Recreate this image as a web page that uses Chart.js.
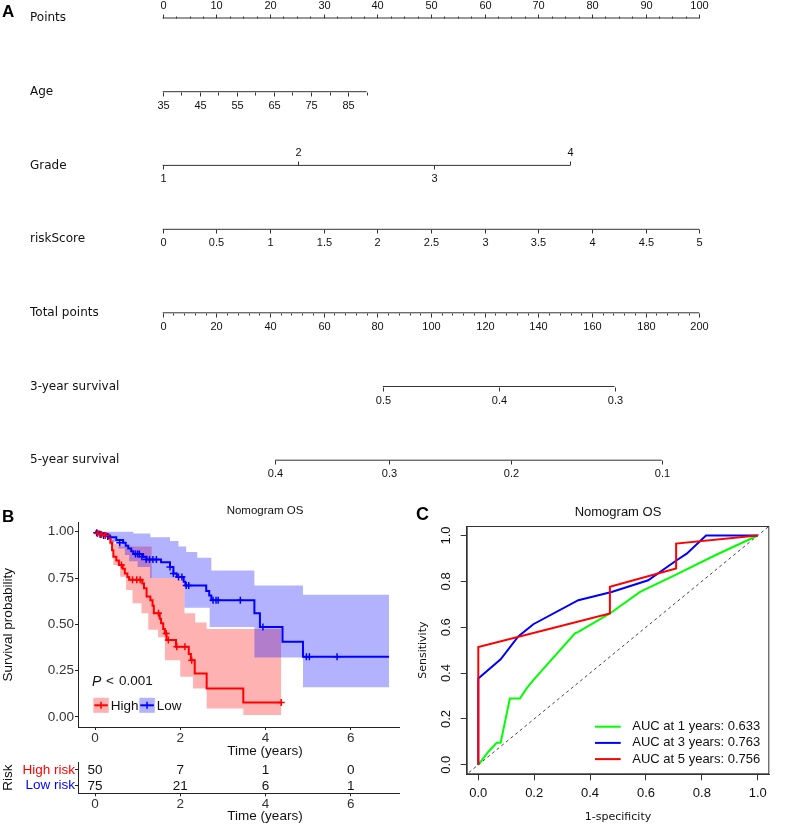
<!DOCTYPE html>
<html>
<head>
<meta charset="utf-8">
<script src="https://cdn.jsdelivr.net/npm/chart.js@4.4.0/dist/chart.umd.min.js"></script>
<style>
  body { margin: 0; background: #fff; width: 788px; height: 827px; position: relative; overflow: hidden; }
  canvas { position: absolute; }
  .tag { position: absolute; font: bold 17px "Liberation Sans", Arial, sans-serif; line-height: 17px; color: #000; }
</style>
</head>
<body>
<canvas id="nomo" width="788" height="485" style="left:0;top:0"></canvas>
<canvas id="km" width="460" height="269" style="left:0;top:490px"></canvas>
<canvas id="risk" width="460" height="75" style="left:0;top:752px"></canvas>
<canvas id="roc" width="388" height="337" style="left:400px;top:490px;background:#fff"></canvas>
<div class="tag" style="left:2px;top:3px">A</div>
<div class="tag" style="left:2px;top:508px">B</div>
<div class="tag" style="left:416px;top:506px;font-size:18px">C</div>
<script>
// Nomogram + KM + ROC figure

Chart.defaults.font.family = '"Liberation Sans", Arial, sans-serif';
Chart.defaults.color = '#222';
Chart.defaults.plugins.legend.display = false;
Chart.defaults.plugins.tooltip.enabled = false;

// ---------- A: nomogram ----------
const nomoRows = ['Points', 'Age', 'Grade', 'riskScore', 'Total points', '3-year survival', '5-year survival'];
const pointsLabels = [0, 10, 20, 30, 40, 50, 60, 70, 80, 90, 100];
const pointsMinorStep = 2.5;
const ageLabels = [35, 45, 55, 65, 75, 85];
const ageTickStep = 5;
const ageRange = [35, 90];
const agePointRange = [0, 38.0];
const gradeLevels = ['1', '2', '3', '4'];
const gradePoints = [0, 25.3, 50.6, 75.9];
const gradeLabelSide = ['below', 'above', 'below', 'above'];
const riskScoreValues = [0, 0.5, 1, 1.5, 2, 2.5, 3, 3.5, 4, 4.5, 5];
const riskScoreMaxPoints = 100;
const totalLabels = [0, 20, 40, 60, 80, 100, 120, 140, 160, 180, 200];
const totalMinorStep = 4;
const surv3Labels = ['0.5', '0.4', '0.3'];
const surv3Total = [82.0, 125.5, 168.4];
const surv5Labels = ['0.4', '0.3', '0.2', '0.1'];
const surv5Total = [41.9, 84.5, 129.8, 186.0];

// ---------- B: Kaplan-Meier ----------
const kmTitle = 'Nomogram OS';
const kmTimeTicks = [0, 2, 4, 6];
const kmSurvTicks = [0, 0.25, 0.5, 0.75, 1];
const highCurve = [[0,1],[0.1,0.99],[0.25,0.98],[0.33,0.965],[0.36,0.94],[0.4,0.9],[0.43,0.865],[0.5,0.845],[0.56,0.82],[0.65,0.8],[0.7,0.775],[0.76,0.755],[0.8,0.74],[1.11,0.72],[1.15,0.695],[1.21,0.65],[1.3,0.63],[1.35,0.6],[1.38,0.56],[1.52,0.53],[1.55,0.505],[1.6,0.475],[1.64,0.45],[1.68,0.415],[1.9,0.378],[2.2,0.34],[2.25,0.306],[2.34,0.234],[2.62,0.153],[3.48,0.078],[4.37,0.078]];
const lowCurve = [[0,1],[0.1,0.99],[0.25,0.98],[0.35,0.97],[0.5,0.955],[0.66,0.94],[0.72,0.925],[0.78,0.91],[0.85,0.895],[0.9,0.88],[1.13,0.865],[1.21,0.85],[1.55,0.835],[1.76,0.81],[1.84,0.775],[1.92,0.755],[2.08,0.73],[2.12,0.71],[2.61,0.68],[2.68,0.655],[2.73,0.63],[3.74,0.56],[3.87,0.486],[4.4,0.405],[4.88,0.324],[6.9,0.324]];
const highUpper = [[0,1],[0.3,0.995],[0.35,0.98],[0.4,0.955],[0.45,0.935],[0.55,0.92],[1.33,0.75],[2.1,0.56],[2.35,0.51],[2.62,0.475],[4.37,0.475]];
const highLower = [[0,1],[0.3,0.97],[0.35,0.93],[0.43,0.82],[0.59,0.757],[0.73,0.685],[0.88,0.613],[1.09,0.56],[1.25,0.47],[1.48,0.43],[1.64,0.306],[2.0,0.216],[2.3,0.153],[2.62,0.045],[3.48,0.01],[4.37,0.01]];
const lowUpper = [[0,1],[0.9,0.99],[1.3,0.97],[1.76,0.95],[1.96,0.92],[2.14,0.89],[2.4,0.86],[2.73,0.79],[3.74,0.71],[4.88,0.66],[6.9,0.66]];
const lowLower = [[0,1],[0.2,0.975],[0.35,0.945],[0.55,0.91],[0.7,0.875],[0.8,0.84],[1.0,0.81],[1.29,0.75],[2.1,0.59],[2.69,0.486],[3.74,0.32],[4.88,0.16],[6.9,0.16]];
const highCensor = [[0.06,0.99],[0.15,0.985],[0.24,0.98],[0.62,0.82],[0.88,0.74],[0.98,0.74],[1.06,0.74],[1.49,0.56],[1.67,0.45],[1.72,0.415],[1.92,0.378],[2.11,0.378],[2.27,0.306],[4.37,0.078]];
const lowCensor = [[0.04,0.995],[0.12,0.985],[0.2,0.98],[0.3,0.975],[0.58,0.94],[0.95,0.88],[1.0,0.88],[1.04,0.88],[1.1,0.865],[1.2,0.85],[1.28,0.85],[1.36,0.85],[1.44,0.85],[1.76,0.81],[1.84,0.775],[1.96,0.755],[2.04,0.755],[2.14,0.71],[2.2,0.71],[2.77,0.63],[2.84,0.63],[2.89,0.63],[3.41,0.63],[3.94,0.486],[4.96,0.324],[5.03,0.324],[5.68,0.324]];
const riskGroups = ['High risk', 'Low risk'];
const riskColors = ['#ff0000', '#0000ff'];
const riskTimes = [0, 2, 4, 6];
const highAtRisk = [50, 7, 1, 0];
const lowAtRisk = [75, 21, 6, 1];

// ---------- C: time-dependent ROC ----------
const rocTitle = 'Nomogram OS';
const rocTicks = [0, 0.2, 0.4, 0.6, 0.8, 1.0];
const roc1 = [[0,0],[0.036,0.057],[0.066,0.096],[0.08,0.096],[0.113,0.289],[0.149,0.289],[0.173,0.333],[0.197,0.369],[0.346,0.573],[0.358,0.58],[0.471,0.66],[0.579,0.754],[0.704,0.827],[0.85,0.915],[1,1]];
const roc3 = [[0,0],[0,0.376],[0.08,0.46],[0.143,0.56],[0.197,0.613],[0.358,0.718],[0.477,0.754],[0.608,0.805],[0.71,0.892],[0.746,0.921],[0.815,1],[1,1]];
const roc5 = [[0,0],[0,0.514],[0.471,0.66],[0.471,0.776],[0.708,0.856],[0.708,0.965],[1,1]];
const rocLabels = ['AUC at 1 years: 0.633', 'AUC at 3 years: 0.763', 'AUC at 5 years: 0.756'];
const rocColors = ['#00ff00', '#0000ff', '#ff0000'];

const xy = arr => arr.map(p => ({ x: p[0], y: p[1] }));

// ---- build nomogram axes ----
const nomoAxes = [];
(function () {
  const pts = [];
  for (let v = 0; v <= 100; v += pointsMinorStep) {
    const major = pointsLabels.includes(v);
    pts.push({ x: v, label: major ? String(v) : '', side: 'above', len: major ? 4 : 2 });
  }
  nomoAxes.push({ row: 0, shift: 0, from: 0, to: 100, ticks: pts });

  const ageToPts = a => agePointRange[0] + (a - ageRange[0]) / (ageRange[1] - ageRange[0]) * (agePointRange[1] - agePointRange[0]);
  const age = [];
  for (let a = ageRange[0]; a <= ageRange[1]; a += ageTickStep) {
    const lab = ageLabels.includes(a);
    age.push({ x: ageToPts(a), label: lab ? String(a) : '', side: 'below', len: lab ? 4 : 3 });
  }
  nomoAxes.push({ row: 1, shift: 0, from: ageToPts(ageRange[0]), to: ageToPts(ageRange[1]), ticks: age });

  nomoAxes.push({ row: 2, shift: 0, from: gradePoints[0], to: gradePoints[gradePoints.length - 1],
    ticks: gradeLevels.map((g, i) => ({ x: gradePoints[i], label: g, side: gradeLabelSide[i], len: 4 })) });

  const rsMax = riskScoreValues[riskScoreValues.length - 1];
  nomoAxes.push({ row: 3, shift: -0.133, from: 0, to: riskScoreMaxPoints,
    ticks: riskScoreValues.map(v => ({ x: v / rsMax * riskScoreMaxPoints, label: String(v), side: 'below', len: 4 })) });

  const totMax = totalLabels[totalLabels.length - 1];
  const tot = [];
  for (let v = 0; v <= totMax; v += totalMinorStep) {
    const major = totalLabels.includes(v);
    tot.push({ x: v / totMax * 100, label: major ? String(v) : '', side: 'below', len: major ? 4 : 2 });
  }
  nomoAxes.push({ row: 4, shift: 0, from: 0, to: 100, ticks: tot });

  nomoAxes.push({ row: 5, shift: 0, from: surv3Total[0] / totMax * 100, to: surv3Total[surv3Total.length - 1] / totMax * 100,
    ticks: surv3Labels.map((l, i) => ({ x: surv3Total[i] / totMax * 100, label: l, side: 'below', len: 4 })) });
  nomoAxes.push({ row: 6, shift: 0, from: surv5Total[0] / totMax * 100, to: surv5Total[surv5Total.length - 1] / totMax * 100,
    ticks: surv5Labels.map((l, i) => ({ x: surv5Total[i] / totMax * 100, label: l, side: 'below', len: 4 })) });
})();

const nomoDecor = {
  id: 'nomoDecor',
  afterDatasetsDraw(chart) {
    const { ctx, scales: { x, y } } = chart;
    ctx.save();
    ctx.strokeStyle = '#333';
    ctx.lineWidth = 1;
    ctx.fillStyle = '#111';
    ctx.textAlign = 'center';
    ctx.textBaseline = 'middle';
    ctx.font = '11px "Liberation Sans", Arial, sans-serif';
    nomoAxes.forEach(ax => {
      const py = Math.round(y.getPixelForValue(ax.row + ax.shift)) + 0.5;
      ax.ticks.forEach(t => {
        const px = Math.round(x.getPixelForValue(t.x)) + 0.5;
        const dir = t.side === 'above' ? -1 : 1;
        ctx.beginPath();
        ctx.moveTo(px, py);
        ctx.lineTo(px, py + dir * t.len);
        ctx.stroke();
        if (t.label) ctx.fillText(t.label, px, py + (dir < 0 ? -12.5 : 13.5));
      });
    });
    ctx.textAlign = 'left';
    ctx.font = '12px "DejaVu Sans", Verdana, sans-serif';
    nomoRows.forEach((name, i) => ctx.fillText(name, 30, y.getPixelForValue(i)));
    ctx.restore();
  }
};

new Chart(document.getElementById('nomo'), {
  type: 'scatter',
  data: {
    datasets: nomoAxes.map(ax => ({
      data: [{ x: ax.from, y: ax.row + ax.shift }, { x: ax.to, y: ax.row + ax.shift }],
      showLine: true, borderColor: '#333', borderWidth: 1, pointRadius: 0, clip: false
    }))
  },
  options: {
    responsive: false, animation: false, events: [],
    layout: { padding: { left: 162.7, right: 88.7, top: 18, bottom: 24.8 } },
    scales: {
      x: { type: 'linear', min: 0, max: 100, display: false },
      y: { type: 'linear', min: 0, max: 6, reverse: true, display: false }
    }
  },
  plugins: [nomoDecor]
});

// ---- B: KM chart ----
const stepLine = (arr, color, order) => ({
  data: xy(arr), stepped: true, borderColor: color, borderWidth: 2, pointRadius: 0, fill: false, order
});
const bandEdge = (arr, order, fill) => ({
  data: xy(arr), stepped: true, borderColor: 'transparent', borderWidth: 0, pointRadius: 0, order, fill
});
const censor = (arr, color) => ({
  data: xy(arr), showLine: false, pointStyle: 'cross', pointRadius: 3.5, pointBorderWidth: 1.5,
  borderColor: color, backgroundColor: color, order: 0
});

const kmDecor = {
  id: 'kmDecor',
  afterDraw(chart) {
    const { ctx, chartArea: a } = chart;
    ctx.save();
    ctx.textBaseline = 'middle';
    ctx.fillStyle = '#111';
    ctx.textAlign = 'center';
    ctx.font = '11.5px "Liberation Sans", Arial, sans-serif';
    ctx.fillText(kmTitle, (a.left + a.right) / 2, 21);
    // p-value
    ctx.textAlign = 'left';
    ctx.font = 'italic 14px "Liberation Sans", Arial, sans-serif';
    const py = a.bottom - 45.3;
    ctx.fillText('P', a.left + 14, py);
    ctx.font = '13.5px "Liberation Sans", Arial, sans-serif';
    ctx.fillText('<', a.left + 28, py);
    ctx.fillText('0.001', a.left + 41, py);
    // legend
    const ly = a.bottom - 21.7;
    const items = [
      { label: 'High', line: '#ff0000', fill: 'rgba(255,0,0,0.3)', x: a.left + 15.3 },
      { label: 'Low', line: '#0000ff', fill: 'rgba(0,0,255,0.3)', x: a.left + 61.3 }
    ];
    items.forEach(it => {
      ctx.fillStyle = it.fill;
      ctx.fillRect(it.x, ly - 7.5, 15.5, 15);
      ctx.strokeStyle = it.line;
      ctx.lineWidth = 2;
      ctx.beginPath();
      ctx.moveTo(it.x + 1, ly); ctx.lineTo(it.x + 14.5, ly);
      ctx.stroke();
      ctx.lineWidth = 1.5;
      ctx.beginPath();
      ctx.moveTo(it.x + 7.75, ly - 3.5); ctx.lineTo(it.x + 7.75, ly + 3.5);
      ctx.stroke();
      ctx.fillStyle = '#111';
      ctx.font = '13.5px "Liberation Sans", Arial, sans-serif';
      ctx.fillText(it.label, it.x + 17.5, ly + 0.5);
    });
    ctx.restore();
  }
};

const kmAxisX = {
  type: 'linear', min: -0.399, max: 8.377,
  afterBuildTicks: s => { s.ticks = kmTimeTicks.map(v => ({ value: v })); },
  grid: { drawOnChartArea: false, tickLength: 3, color: '#222' },
  border: { color: '#222', width: 1 },
  ticks: { font: { size: 13.5 }, color: '#333', padding: 0 },
  title: { display: true, text: 'Time (years)', font: { size: 13.5 }, color: '#111', padding: 0 }
};

new Chart(document.getElementById('km'), {
  type: 'line',
  data: {
    datasets: [
      censor(highCensor, '#ff0000'),            // 0
      censor(lowCensor, '#0000ff'),             // 1
      stepLine(highCurve, '#ff0000', 1),        // 2
      stepLine(lowCurve, '#0000ff', 1),         // 3
      bandEdge(lowUpper, 2, { target: 5, above: 'rgba(0,0,255,0.3)', below: 'rgba(0,0,255,0.3)' }), // 4
      bandEdge(lowLower, 2, false),             // 5
      bandEdge(highUpper, 4, { target: 7, above: 'rgba(255,0,0,0.3)', below: 'rgba(255,0,0,0.3)' }), // 6
      bandEdge(highLower, 4, false)             // 7
    ]
  },
  options: {
    responsive: false, animation: false, events: [],
    layout: { padding: { top: 32.5, right: 8, left: 0, bottom: 0 } },
    scales: {
      x: Object.assign({}, kmAxisX, { afterFit: s => { s.height = 32; } }),
      y: {
        type: 'linear', min: -0.055, max: 1.05,
        afterBuildTicks: s => { s.ticks = kmSurvTicks.map(v => ({ value: v })); },
        afterFit: s => { s.width = 78; },
        grid: { drawOnChartArea: false, tickLength: 3, color: '#222' },
        border: { color: '#222', width: 1 },
        ticks: { font: { size: 13.5 }, color: '#333', padding: 1, callback: v => v.toFixed(2) },
        title: { display: true, text: 'Survival probability', font: { size: 13.5 }, color: '#111', padding: 0 }
      }
    }
  },
  plugins: [kmDecor]
});

// ---- B: risk table ----
const riskDecor = {
  id: 'riskDecor',
  afterDatasetsDraw(chart) {
    const { ctx, scales: { x, y } } = chart;
    ctx.save();
    ctx.font = '13.5px "Liberation Sans", Arial, sans-serif';
    ctx.fillStyle = '#111';
    ctx.textAlign = 'center';
    ctx.textBaseline = 'middle';
    [highAtRisk, lowAtRisk].forEach((counts, r) => {
      counts.forEach((n, i) => ctx.fillText(String(n), x.getPixelForValue(riskTimes[i]), y.getPixelForValue(r) + 0.5));
    });
    ctx.restore();
  }
};

new Chart(document.getElementById('risk'), {
  type: 'line',
  data: {
    datasets: [highAtRisk, lowAtRisk].map((counts, r) => ({
      data: counts.map((n, i) => ({ x: riskTimes[i], y: riskGroups[r] })),
      showLine: false, pointRadius: 0
    }))
  },
  options: {
    responsive: false, animation: false, events: [],
    layout: { padding: { top: 10, right: 8, left: 0, bottom: 0 } },
    scales: {
      x: Object.assign({}, kmAxisX, { afterFit: s => { s.height = 33.7; },
        title: { display: true, text: 'Time (years)', font: { size: 13.5 }, color: '#111', padding: { bottom: 2.5 } } }),
      y: {
        type: 'category', labels: riskGroups, offset: true,
        afterFit: s => { s.width = 78; },
        grid: { drawOnChartArea: false, tickLength: 3, color: '#222', offset: false },
        border: { color: '#222', width: 1 },
        ticks: { font: { size: 13.5 }, padding: 0, autoSkip: false, color: c => riskColors[c.index] },
        title: { display: true, text: 'Risk', font: { size: 13.5 }, color: '#111', padding: 0 }
      }
    }
  },
  plugins: [riskDecor]
});

// ---- C: ROC ----
const rocDecor = {
  id: 'rocDecor',
  afterDraw(chart) {
    const { ctx, chartArea: a, scales: { y } } = chart;
    ctx.save();
    ctx.strokeStyle = '#333';
    ctx.lineWidth = 1;
    ctx.strokeRect(a.left + 0.5, a.top + 0.5, a.right - a.left - 1, a.bottom - a.top - 1);
    ctx.fillStyle = '#111';
    ctx.textAlign = 'center';
    ctx.textBaseline = 'middle';
    ctx.font = '13px "Liberation Sans", Arial, sans-serif';
    ctx.fillText(rocTitle, (a.left + a.right) / 2, a.top - 13.3);
    rocTicks.forEach(v => {
      ctx.save();
      ctx.translate(a.left - 20, y.getPixelForValue(v));
      ctx.rotate(-Math.PI / 2);
      ctx.fillText(v.toFixed(1), 0, 0);
      ctx.restore();
    });
    // legend
    ctx.textAlign = 'left';
    rocLabels.forEach((lab, i) => {
      const ly = a.bottom - 47.6 + i * 16.2;
      ctx.strokeStyle = rocColors[i];
      ctx.lineWidth = 2;
      ctx.beginPath();
      ctx.moveTo(a.right - 174.3, ly); ctx.lineTo(a.right - 148.6, ly);
      ctx.stroke();
      ctx.fillStyle = '#111';
      ctx.fillText(lab, a.right - 137, ly);
    });
    ctx.restore();
  }
};

new Chart(document.getElementById('roc'), {
  type: 'line',
  data: {
    datasets: [
      { data: xy(roc5), borderColor: rocColors[2], borderWidth: 2, pointRadius: 0, order: 0 },
      { data: xy(roc3), borderColor: rocColors[1], borderWidth: 2, pointRadius: 0, order: 1 },
      { data: xy(roc1), borderColor: rocColors[0], borderWidth: 2, pointRadius: 0, order: 2 },
      { data: [{ x: -0.1, y: -0.1 }, { x: 1.1, y: 1.1 }], borderColor: '#444', borderWidth: 1, borderDash: [3, 3], pointRadius: 0, order: 3 }
    ]
  },
  options: {
    responsive: false, animation: false, events: [],
    layout: { padding: { top: 36, right: 18.7, left: 0, bottom: 0 } },
    scales: {
      x: {
        type: 'linear', min: -0.0415, max: 1.0415,
        afterBuildTicks: s => { s.ticks = rocTicks.map(v => ({ value: v })); },
        afterFit: s => { s.height = 52.7; },
        grid: { drawOnChartArea: false, tickLength: 6, color: '#333' },
        border: { color: '#333', width: 1 },
        ticks: { font: { size: 13 }, color: '#111', padding: 5, callback: v => v.toFixed(1) },
        title: { display: true, text: '1-specificity', font: { size: 11, family: '"DejaVu Sans", Verdana, sans-serif' }, color: '#111', padding: { bottom: 3.7 } }
      },
      y: {
        type: 'linear', min: -0.0415, max: 1.0415,
        afterBuildTicks: s => { s.ticks = rocTicks.map(v => ({ value: v })); },
        afterFit: s => { s.width = 66.7; },
        grid: { drawOnChartArea: false, tickLength: 6, color: '#333' },
        border: { color: '#333', width: 1 },
        ticks: { display: false },
        title: { display: true, text: 'Sensitivity', font: { size: 11, family: '"DejaVu Sans", Verdana, sans-serif' }, color: '#111', padding: { top: 16.4 } }
      }
    }
  },
  plugins: [rocDecor]
});
</script>
</body>
</html>
